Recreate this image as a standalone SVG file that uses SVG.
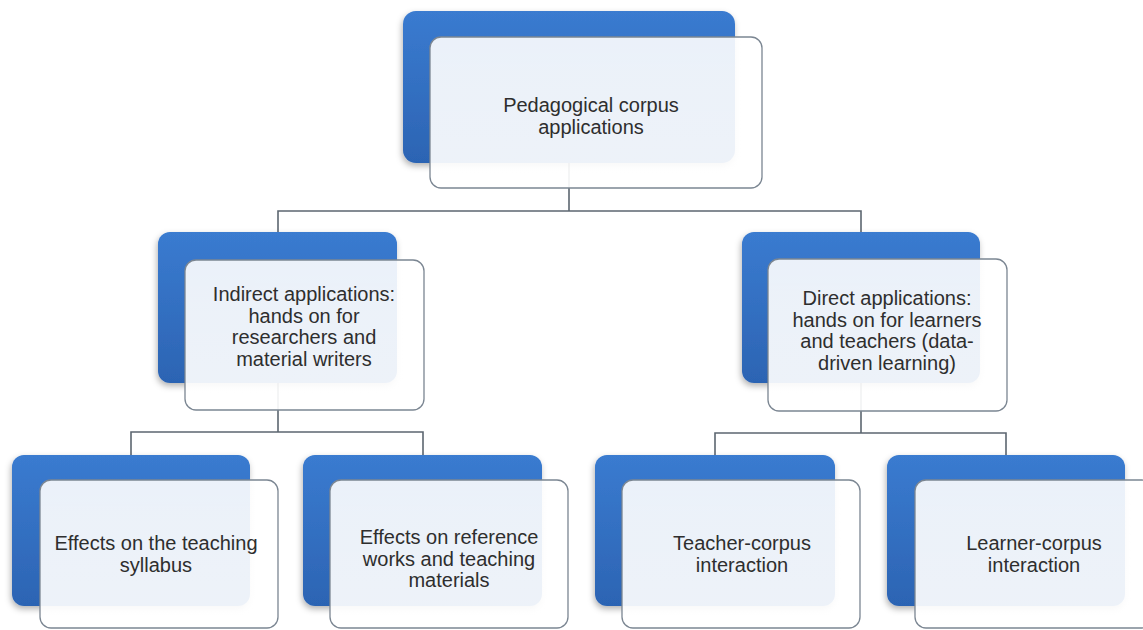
<svg xmlns="http://www.w3.org/2000/svg" width="1143" height="630" viewBox="0 0 1143 630">
<defs>
<linearGradient id="blueGrad" x1="0" y1="0" x2="0" y2="1">
<stop offset="0" stop-color="#3a7bd0"/>
<stop offset="1" stop-color="#2c64b3"/>
</linearGradient>
<linearGradient id="whiteGrad" x1="0" y1="0" x2="0" y2="1">
<stop offset="0" stop-color="#ffffff" stop-opacity="0.9"/>
<stop offset="1" stop-color="#ffffff" stop-opacity="0.92"/>
</linearGradient>
<filter id="shadow" x="-10%" y="-10%" width="120%" height="125%">
<feDropShadow dx="-1" dy="3" stdDeviation="3" flood-color="#000000" flood-opacity="0.3"/>
</filter>
</defs>
<style>
.blue{fill:url(#blueGrad);filter:url(#shadow);}
.card{fill:url(#whiteGrad);stroke:#7b8692;stroke-width:1.3;}
.conn{fill:none;stroke:#5c6670;stroke-width:1.6;}
.lbl{font-family:"Liberation Sans",Arial,sans-serif;font-size:20px;fill:#2e2e2e;text-anchor:middle;}
</style>
<rect width="1143" height="630" fill="#ffffff"/>
<g id="connectors">
<path class="conn" d="M569 163 V211 H278 V232 M569 211 H861 V232"/>
<path class="conn" d="M278 383 V432 H131 V455 M278 432 H423 V455"/>
<path class="conn" d="M861 383 V433 H715 V455 M861 433 H1006 V455"/>
</g>
<g id="node-root">
<rect class="blue" x="403" y="11" width="332" height="152" rx="13"/>
<rect class="card" x="430" y="37" width="332" height="151" rx="11"/>
<text class="lbl"><tspan x="591" y="112">Pedagogical corpus</tspan><tspan x="591" y="133.5">applications</tspan></text>
</g>
<g id="node-indirect">
<rect class="blue" x="158" y="232" width="239" height="151" rx="12"/>
<rect class="card" x="185" y="260" width="239" height="150" rx="11"/>
<text class="lbl"><tspan x="304" y="301">Indirect applications:</tspan><tspan x="304" y="322.5">hands on for</tspan><tspan x="304" y="344">researchers and</tspan><tspan x="304" y="365.5">material writers</tspan></text>
</g>
<g id="node-direct">
<rect class="blue" x="742" y="232" width="238" height="151" rx="12"/>
<rect class="card" x="768" y="259" width="239" height="152" rx="11"/>
<text class="lbl"><tspan x="887" y="305">Direct applications:</tspan><tspan x="887" y="326.5">hands on for learners</tspan><tspan x="887" y="348">and teachers (data-</tspan><tspan x="887" y="369.5">driven learning)</tspan></text>
</g>
<g id="node-syllabus">
<rect class="blue" x="12" y="455" width="238" height="151" rx="12"/>
<rect class="card" x="40" y="480" width="238" height="148" rx="11"/>
<text class="lbl"><tspan x="156" y="550">Effects on the teaching</tspan><tspan x="156" y="571.5">syllabus</tspan></text>
</g>
<g id="node-reference">
<rect class="blue" x="303" y="455" width="239" height="151" rx="12"/>
<rect class="card" x="330" y="480" width="238" height="148" rx="11"/>
<text class="lbl"><tspan x="449" y="544">Effects on reference</tspan><tspan x="449" y="565.5">works and teaching</tspan><tspan x="449" y="587">materials</tspan></text>
</g>
<g id="node-teacher">
<rect class="blue" x="595" y="455" width="240" height="151" rx="12"/>
<rect class="card" x="622" y="480" width="238" height="148" rx="11"/>
<text class="lbl"><tspan x="742" y="550">Teacher-corpus</tspan><tspan x="742" y="571.5">interaction</tspan></text>
</g>
<g id="node-learner">
<rect class="blue" x="887" y="455" width="238" height="151" rx="12"/>
<rect class="card" x="915" y="480" width="238" height="148" rx="11"/>
<text class="lbl"><tspan x="1034" y="550">Learner-corpus</tspan><tspan x="1034" y="571.5">interaction</tspan></text>
</g>
</svg>
